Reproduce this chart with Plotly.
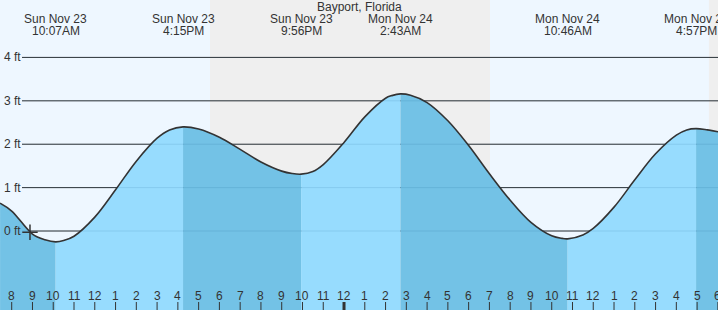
import plotly.graph_objects as go

# ---------------- data ----------------
title_text = "Bayport, Florida"

# tide curve readings (hours from Sun Nov 23 00:00, feet)
hours = [7.44, 8, 9, 9.6, 10.117, 10.5, 11, 12, 13, 14, 15, 15.6, 16.25, 17, 18, 19, 20,
         21, 21.5, 21.933, 22.5, 23, 24, 25, 26, 26.3, 26.717, 27.2, 28, 29, 30, 31, 32,
         33, 34, 34.5, 34.767, 35.5, 36, 37, 38, 39, 40, 40.5, 40.95, 41.5, 42.1]
heights = [0.64, 0.46, -0.07, -0.20, -0.25, -0.22, -0.12, 0.32, 0.95, 1.61, 2.14, 2.33,
           2.40, 2.35, 2.16, 1.88, 1.59, 1.38, 1.325, 1.31, 1.37, 1.53, 2.04, 2.63, 3.06,
           3.12, 3.16, 3.13, 2.96, 2.54, 1.97, 1.32, 0.71, 0.20, -0.11, -0.17, -0.18,
           -0.09, 0.06, 0.55, 1.18, 1.78, 2.21, 2.33, 2.36, 2.33, 2.28]

# high / low events
event_hours = [10.117, 16.25, 21.933, 26.717, 34.767, 40.95]
event_days = ["Sun Nov 23", "Sun Nov 23", "Sun Nov 23", "Mon Nov 24", "Mon Nov 24", "Mon Nov 24"]
event_clock = ["10:07AM", "4:15PM", "9:56PM", "2:43AM", "10:46AM", "4:57PM"]

# night periods (sunset, sunrise)
night_start = [17.55, 41.57]
night_end = [31.03, 43.0]

# hour ticks
tick_hours = [8, 9, 10, 11, 12, 13, 14, 15, 16, 17, 18, 19, 20, 21, 22, 23, 24, 25, 26,
              27, 28, 29, 30, 31, 32, 33, 34, 35, 36, 37, 38, 39, 40, 41, 42]
tick_labels = ["8", "9", "10", "11", "12", "1", "2", "3", "4", "5", "6", "7", "8", "9",
               "10", "11", "12", "1", "2", "3", "4", "5", "6", "7", "8", "9", "10", "11",
               "12", "1", "2", "3", "4", "5", "6"]
midnight_hours = [24]

# y grid
grid_ft = [0, 1, 2, 3, 4]
grid_labels = ["0 ft", "1 ft", "2 ft", "3 ft", "4 ft"]

# current time marker
now_hour = [8.88]
now_height = [-0.03]

# ---------------- styling ----------------
W, H = 718, 310
X_RANGE = [7.4367, 42.006]
Y_RANGE = [-1.82, 5.323]
DAY_BG = "#EEF7FF"
NIGHT_BG = "#EFEFEF"
RISE_FILL = "#97DCFE"
FALL_FILL = "#73C2E6"
TEXT = "#333333"
FONT = "Liberation Sans, Arial, sans-serif"


def py(px):
    return 1 - px / H


fig = go.Figure()

# fill segments between consecutive extremes
bounds = [hours[0]] + event_hours + [hours[-1]]
for i in range(len(bounds) - 1):
    a, b = bounds[i], bounds[i + 1]
    xs = [h for h in hours if a - 1e-9 <= h <= b + 1e-9]
    ys = [heights[hours.index(h)] for h in xs]
    rising = ys[-1] > ys[0]
    color = RISE_FILL if rising else FALL_FILL
    fig.add_trace(go.Scatter(x=[a, b], y=[-3, -3], mode="lines",
                             line=dict(width=0), hoverinfo="skip", showlegend=False))
    fig.add_trace(go.Scatter(x=xs, y=ys, mode="lines", fill="tonexty", fillcolor=color,
                             line=dict(width=0, shape="spline"), hoverinfo="skip",
                             showlegend=False))

# tide curve
fig.add_trace(go.Scatter(x=hours, y=heights, mode="lines",
                         line=dict(color="#333333", width=1.6, shape="spline"),
                         hoverinfo="skip", showlegend=False))

# current time marker
fig.add_trace(go.Scatter(x=now_hour, y=now_height, mode="markers",
                         marker=dict(symbol="cross-thin", size=11,
                                     line=dict(color="#333333", width=1.5)),
                         hoverinfo="skip", showlegend=False))

shapes = []
for s, e in zip(night_start, night_end):
    shapes.append(dict(type="rect", xref="x", yref="paper", x0=s, x1=e, y0=0, y1=1,
                       fillcolor=NIGHT_BG, line=dict(width=0), layer="below"))
for g in grid_ft:
    shapes.append(dict(type="line", xref="paper", yref="y", x0=22 / W, x1=1, y0=g, y1=g,
                       line=dict(color="#333333", width=1), layer="below"))
    shapes.append(dict(type="line", xref="paper", yref="y", x0=22 / W, x1=1, y0=g, y1=g,
                       line=dict(color="rgba(0,70,120,0.12)", width=1), layer="above"))
for h in tick_hours:
    shapes.append(dict(type="line", xref="x", yref="paper", x0=h, x1=h,
                       y0=0, y1=py(302),
                       line=dict(color="#333333", width=3 if h in midnight_hours else 1),
                       layer="above"))

annotations = []
annotations.append(dict(x=0.5, xref="paper", y=py(7), yref="paper", text=title_text,
                        showarrow=False, font=dict(size=12, color=TEXT, family=FONT),
                        xanchor="center", yanchor="middle"))
for eh, d, c in zip(event_hours, event_days, event_clock):
    annotations.append(dict(x=eh, xref="x", y=py(19.5), yref="paper", text=d,
                            showarrow=False, font=dict(size=12, color=TEXT, family=FONT),
                            xanchor="center", yanchor="middle"))
    annotations.append(dict(x=eh, xref="x", y=py(31.5), yref="paper", text=c,
                            showarrow=False, font=dict(size=12, color=TEXT, family=FONT),
                            xanchor="center", yanchor="middle"))
for g, lab in zip(grid_ft, grid_labels):
    annotations.append(dict(x=2 / W, xref="paper", y=g, yref="y", text=lab,
                            showarrow=False, font=dict(size=12, color=TEXT, family=FONT),
                            xanchor="left", yanchor="middle"))
for h, lab in zip(tick_hours, tick_labels):
    annotations.append(dict(x=h, xref="x", y=py(295.5), yref="paper", text=lab,
                            showarrow=False, font=dict(size=12, color=TEXT, family=FONT),
                            xanchor="center", yanchor="middle"))

fig.update_layout(
    width=W, height=H,
    margin=dict(l=0, r=0, t=0, b=0),
    paper_bgcolor=DAY_BG, plot_bgcolor=DAY_BG,
    xaxis=dict(range=X_RANGE, visible=False, fixedrange=True),
    yaxis=dict(range=Y_RANGE, visible=False, fixedrange=True),
    shapes=shapes, annotations=annotations,
    showlegend=False,
)

fig.write_html("out.html", config={"displayModeBar": False})
